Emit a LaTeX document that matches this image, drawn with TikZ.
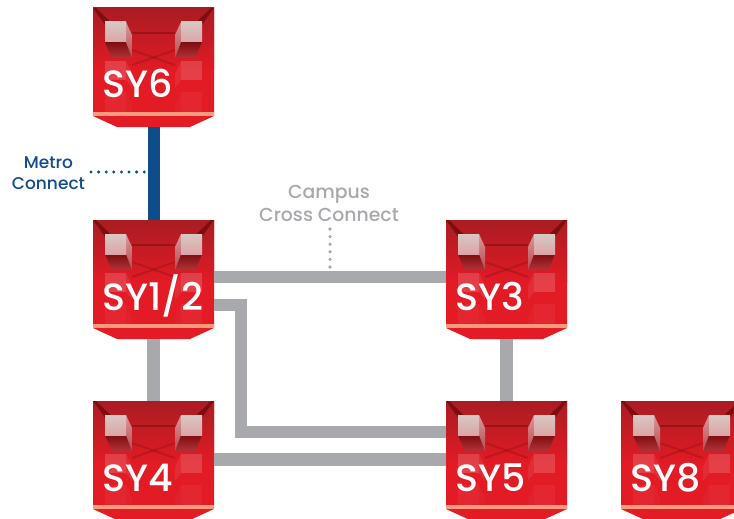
\documentclass[tikz,border=0pt]{standalone}
\usepackage{fontspec}
\setmainfont{Poppins Medium}
\usepackage{tikz}
\usetikzlibrary{calc}
\definecolor{siteRed}{HTML}{E21B25}
\definecolor{siteDark}{HTML}{A91C22}
\definecolor{siteEdge}{HTML}{7E0D10}
\definecolor{siteBand}{HTML}{F89B7C}
\definecolor{metroBlue}{HTML}{0F4C8A}
\definecolor{campusGrey}{HTML}{A7A9AC}
\tikzset{
  siteart/.pic={
    \begin{scope}[shift={(-60.5,-59.5)}]
      \fill[siteRed] (0,0) -- (121,0) -- (121,108) -- (97,119) -- (24,119) -- (0,108) -- cycle;
      \shade[top color=siteDark,bottom color=siteRed] (0,0) rectangle (121,62);
      \fill[siteBand] (0,104) rectangle (121,108);
      \fill[siteEdge,opacity=.55] (39,24) rectangle (82,26);
      \draw[siteEdge,opacity=.3,line width=2] (39,42) -- (82,57);
      \draw[siteEdge,opacity=.3,line width=2] (82,42) -- (39,57);
      % one half of the box, mirrored by the loop
      \foreach \s in {1,-1} {
        \begin{scope}[shift={(60.5,0)},xscale=\s]
          \fill[siteEdge] (-60.5,0) -- (-57.5,0) -- (-40,17) -- (-46,20) -- cycle;
          % faint lower boxes
          \fill[white,opacity=.16] (-48.5,53) rectangle (-27.5,72);
          \fill[white,opacity=.08] (-27.5,53) -- (-21.5,66) -- (-21.5,80) -- (-27.5,72) -- cycle;
          \fill[white,opacity=.05] (-48.5,84) rectangle (-27.5,104);
          \fill[white,opacity=.03] (-27.5,84) -- (-21.5,98) -- (-21.5,104) -- (-27.5,104) -- cycle;
          % top box
          \shade[top color=siteEdge,bottom color=siteDark!90!white] (-48.5,34) -- (-27.5,34) -- (-21.5,42) -- (-21.5,50) -- (-42,50) -- cycle;
          \shade[top color=siteDark!45!white,bottom color=siteDark!80!white] (-27.5,14) -- (-21.5,27) -- (-21.5,50) -- (-27.5,34) -- cycle;
          \shade[top color=siteBand!20!white!85!black,bottom color=siteDark!40!white] (-48.5,14) rectangle (-27.5,34);
        \end{scope}
      }
    \end{scope}
  },
  sitebox/.style={rectangle,inner xsep=9.5pt,inner ysep=0pt,text width=102pt,align=left,
    text height=90pt,text depth=29pt,text=white,font=\fontsize{38}{38}\selectfont},
  metroline/.style={metroBlue,line width=12pt},
  campusline/.style={campusGrey,line width=12.5pt},
  metrodots/.style={metroBlue,line width=3.3pt,line cap=round,dash pattern=on 0pt off 7.6pt},
  campusdots/.style={campusGrey,line width=3.6pt,line cap=round,dash pattern=on 0pt off 7.6pt},
  metrotext/.style={metroBlue,align=center,font=\fontsize{17}{21}\selectfont,inner sep=0pt},
  campustext/.style={campusGrey,align=center,font=\fontsize{18.8}{23}\selectfont,inner sep=0pt}
}
\begin{document}
\begin{tikzpicture}[x=1pt,y=-1pt]
  \useasboundingbox (0,0) rectangle (734,519);
  \foreach \name/\posx/\posy/\lab in {sy6/153.5/67.5/SY6,sy12/153.5/279.5/{SY1/2},sy3/506.5/279.5/SY3,
    sy4/153.5/460.5/SY4,sy5/506.5/460.5/SY5,sy8/681.5/460.5/SY8} {
    \pic at (\posx,\posy) {siteart};
    \node[sitebox] (\name) at (\posx,\posy) {\lab};
  }
  \draw[metroline] (sy6) -- (sy12);
  \draw[campusline] (sy12.south) -- (sy4.north);
  \draw[campusline] (sy3.south) -- (sy5.north);
  \draw[campusline] ([yshift=2.5pt]sy12.east) -- ([yshift=2.5pt]sy3.west);
  \draw[campusline] ([yshift=1pt]sy4.east) -- ([yshift=1pt]sy5.west);
  \draw[campusline] ([yshift=-25.5pt]sy12.east) -- ++(27,0) |- ([yshift=28.5pt]sy5.west);
  \node[metrotext] (metro) at (48.5,173.5) {Metro\\Connect};
  \node[campustext] (campus) at (329,203.5) {Campus\\Cross Connect};
  \coordinate (metroend) at (148,172);
  \coordinate (campusend) at (330,268);
  \draw[metrodots] (91,172) -- (metroend);
  \draw[campusdots] (330,229) -- (campusend);
\end{tikzpicture}
\end{document}
